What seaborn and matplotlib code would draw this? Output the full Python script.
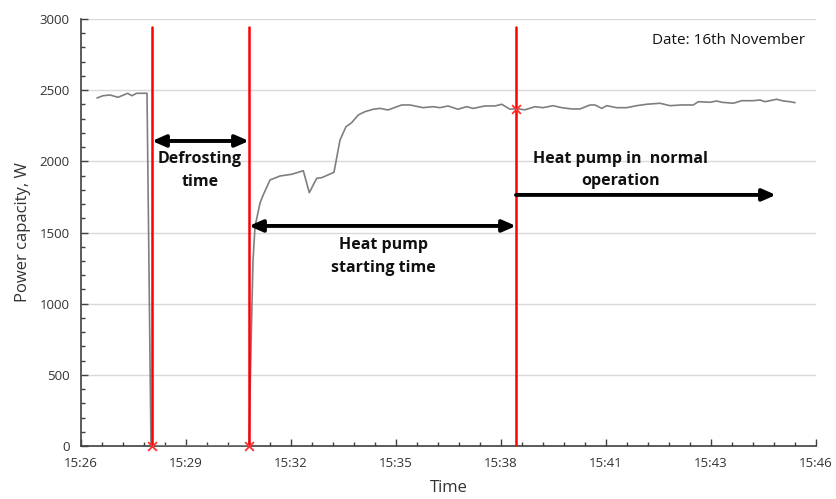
import matplotlib
matplotlib.use("Agg")
import matplotlib.pyplot as plt
import seaborn as sns
import pandas as pd
import numpy as np
from matplotlib.ticker import MultipleLocator, FixedLocator

# minutes after 15:26
minutes = [0.435, 0.599, 0.789, 1.007, 1.271, 1.380, 1.516, 1.741, 1.796, 1.905,
           4.571, 4.626, 4.680, 4.735, 4.871, 4.952, 5.143, 5.415, 5.733, 6.049,
           6.212, 6.414, 6.550, 6.884, 7.048, 7.211, 7.366, 7.546, 7.728, 7.954,
           8.136, 8.354, 8.727, 8.952, 9.306, 9.578, 9.769, 9.986, 10.259, 10.495,
           10.667, 10.993, 11.265, 11.448, 11.673, 11.837, 12.082, 12.354, 12.571, 12.844,
           13.080, 13.352, 13.578, 13.850, 13.986, 14.169, 14.305, 14.577, 14.849, 15.121,
           15.393, 15.755, 16.027, 16.345, 16.661, 16.797, 17.116, 17.298, 17.434, 17.750,
           17.978, 18.294, 18.476, 18.612, 18.930, 19.110, 19.293, 19.429]
power = [2445, 2461, 2466, 2450, 2478, 2461, 2478, 2478, 2478, 0,
         0, 700, 1300, 1541, 1707, 1760, 1869, 1897, 1909, 1934,
         1780, 1881, 1885, 1923, 2150, 2243, 2272, 2326, 2349, 2366,
         2372, 2361, 2396, 2396, 2377, 2384, 2377, 2389, 2366, 2384,
         2372, 2389, 2389, 2401, 2366, 2370, 2362, 2384, 2377, 2391,
         2377, 2368, 2368, 2396, 2396, 2372, 2391, 2377, 2377, 2391,
         2401, 2408, 2391, 2396, 2396, 2419, 2415, 2424, 2415, 2408,
         2426, 2426, 2431, 2419, 2436, 2424, 2419, 2412]

event_minutes = [1.932, 4.571, 11.837]
event_power = [0, 0, 2370]
event_line_top = 2945

tick_labels = ["15:26", "15:29", "15:32", "15:35", "15:38", "15:41", "15:43", "15:46"]

arrow_defrost = (1.932, 4.571, 2143)
arrow_start = (4.571, 11.837, 1546)
arrow_normal = (11.837, 18.91, 1764)

df = pd.DataFrame({"Time": minutes, "Power": power})

sns.set_style("white")
plt.rcParams["font.family"] = ["Open Sans", "DejaVu Sans"]

fig = plt.figure(figsize=(8.36, 4.99), dpi=100)
ax = fig.add_axes([81/836, 1-446/499, 735/836, (446-19)/499])

ax.yaxis.grid(True, color="#d9d9d9", linewidth=1.0, zorder=0)
ax.set_axisbelow(True)

sns.lineplot(data=df, x="Time", y="Power", ax=ax, color="#7f7f7f", linewidth=1.2,
             sort=False, estimator=None, zorder=3)

for xm in event_minutes:
    ax.plot([xm, xm], [0, event_line_top], color="#ff0000", linewidth=1.8, zorder=4)
ax.scatter(event_minutes, event_power, marker="x", color="#ff3030", s=40,
           linewidths=1.3, zorder=5, clip_on=False)

arrow_kw = dict(arrowstyle="<|-|>,head_length=0.8,head_width=0.35", color="black", lw=2.8,
                shrinkA=0, shrinkB=0)
ax.annotate("", xy=(arrow_defrost[1], arrow_defrost[2]), xytext=(arrow_defrost[0], arrow_defrost[2]),
            arrowprops=arrow_kw, zorder=6)
ax.annotate("", xy=(arrow_start[1], arrow_start[2]), xytext=(arrow_start[0], arrow_start[2]),
            arrowprops=arrow_kw, zorder=6)
ax.annotate("", xy=(arrow_normal[1], arrow_normal[2]), xytext=(arrow_normal[0], arrow_normal[2]),
            arrowprops=dict(arrowstyle="-|>,head_length=0.8,head_width=0.35", color="black",
                            lw=2.8, shrinkA=0, shrinkB=0), zorder=6)

txt_kw = dict(fontsize=11.5, fontweight="bold", ha="center", va="center",
              linespacing=1.55, color="#111111")
ax.text(3.24, 1936, "Defrosting\ntime", **txt_kw)
ax.text(8.22, 1331, "Heat pump\nstarting time", **txt_kw)
ax.text(14.67, 1939, "Heat pump in  normal\noperation", **txt_kw)
ax.text(19.70, 2852, "Date: 16th November", fontsize=11, ha="right", va="center",
        color="#111111")

ax.set_xlim(0, 20)
ax.set_ylim(0, 3000)
ax.xaxis.set_major_locator(FixedLocator([20/7*k for k in range(8)]))
ax.set_xticklabels(tick_labels)
ax.xaxis.set_minor_locator(FixedLocator([20/35*k for k in range(36)]))
ax.yaxis.set_major_locator(MultipleLocator(500))
ax.yaxis.set_minor_locator(MultipleLocator(100))

ax.tick_params(axis="both", which="major", direction="in", length=5, width=1,
               color="#404040", labelsize=9.5, labelcolor="#333333", pad=8)
ax.tick_params(axis="both", which="minor", direction="in", length=3, width=1,
               color="#404040")
ax.tick_params(axis="x", which="both", bottom=True)
ax.tick_params(axis="y", which="both", left=True)

for s in ["top", "right"]:
    ax.spines[s].set_visible(False)
for s in ["left", "bottom"]:
    ax.spines[s].set_color("#404040")
    ax.spines[s].set_linewidth(1.2)

ax.set_xlabel("Time", fontsize=12, color="#333333", labelpad=7)
ax.set_ylabel("Power capacity, W", fontsize=12, color="#333333", labelpad=6)

fig.savefig("out.png", dpi=100)
